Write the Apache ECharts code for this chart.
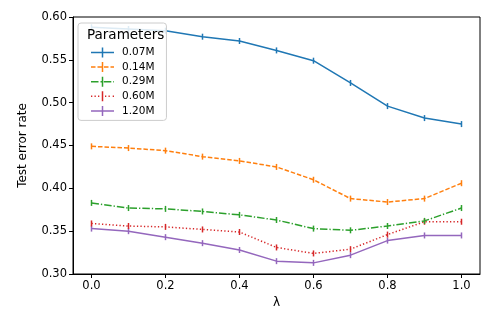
<!DOCTYPE html>
<html>
<head>
<meta charset="utf-8">
<script src="https://cdn.jsdelivr.net/npm/echarts@6/dist/echarts.min.js"></script>
<style>
  html, body { margin: 0; padding: 0; background: #fff; }
  #chart { width: 498px; height: 332px; }
</style>
</head>
<body>
<div id="chart"></div>
<script>
// lambda values on the x axis
const lambdas = [0.0, 0.1, 0.2, 0.3, 0.4, 0.5, 0.6, 0.7, 0.8, 0.9, 1.0]
const xTicks = [0.0, 0.2, 0.4, 0.6, 0.8, 1.0]

// test error rate per model size
const names = ['0.07M', '0.14M', '0.29M', '0.60M', '1.20M']
const err007 = [0.588, 0.586, 0.584, 0.577, 0.572, 0.561, 0.549, 0.523, 0.496, 0.482, 0.475]
const err014 = [0.449, 0.447, 0.444, 0.437, 0.432, 0.425, 0.410, 0.388, 0.384, 0.388, 0.406]
const err029 = [0.383, 0.377, 0.376, 0.373, 0.369, 0.363, 0.353, 0.351, 0.356, 0.362, 0.377]
const err060 = [0.359, 0.356, 0.355, 0.352, 0.349, 0.331, 0.324, 0.329, 0.346, 0.361, 0.361]
const err120 = [0.353, 0.350, 0.343, 0.336, 0.328, 0.315, 0.313, 0.322, 0.339, 0.345, 0.345]

const colors = ['#1f77b4', '#ff7f0e', '#2ca02c', '#d62728', '#9467bd']
const dashes = ['solid', [4.5, 2], [7.5, 2, 1.3, 2], [1.3, 2.2], 'solid']
const allValues = [err007, err014, err029, err060, err120]

const font = 'DejaVu Sans'
const chart = echarts.init(document.getElementById('chart'))

// 图例图标：横线(按线型分段) + 竖的误差棒，坐标框 23x10
const bar = 'M10.75,0 H12.25 V10 H10.75 Z'
const seg = (a, b) => `M${a},4.25 H${b} V5.75 H${a} Z`
const legendIcons = [
  'path://' + seg(0, 23) + bar,
  'path://' + seg(0, 4.5) + seg(6.5, 11) + seg(13, 17.5) + seg(19.5, 23) + bar,
  'path://' + seg(0, 7.5) + seg(9.5, 10.8) + seg(12.8, 20.3) + seg(22.3, 23) + bar,
  'path://' + seg(0, 1.3) + seg(3.5, 4.8) + seg(7, 8.3) + seg(14, 15.3) + seg(17.5, 18.8) + seg(21.7, 23) + bar,
  'path://' + seg(0, 23) + bar,
]

// 误差棒用细竖条当作标记
const tick = 'path://M0,0 L1,0 L1,8 L0,8 Z'

const series = allValues.map((vals, i) => ({
  name: names[i],
  type: 'line',
  data: lambdas.map((x, j) => [x, vals[j]]),
  symbol: tick,
  symbolSize: [1.5, 6],
  showSymbol: true,
  color: colors[i],
  lineStyle: { width: 1.5, type: dashes[i], color: colors[i] },
  itemStyle: { color: colors[i] },
  z: 10 - i,
}))

const option = {
  animation: false,
  textStyle: { fontFamily: font },
  title: {
    text: 'Parameters',
    left: 82,
    top: 23,
    textStyle: { fontFamily: font, fontSize: 13.5, fontWeight: 'normal', color: '#000' },
    z: 20,
  },
  legend: {
    orient: 'vertical',
    left: 78,
    top: 23,
    padding: [24, 12, 4, 13],
    itemWidth: 23,
    itemHeight: 10,
    itemGap: 3.6,
    symbolKeepAspect: true,
    backgroundColor: 'rgba(255,255,255,0.85)',
    borderColor: '#cccccc',
    borderWidth: 1,
    borderRadius: 3,
    textStyle: { fontFamily: font, fontSize: 10.5, color: '#000', lineHeight: 10, padding: [0, 0, 0, 3] },
    data: names.map((n, i) => ({ name: n, icon: legendIcons[i], itemStyle: { color: colors[i] } })),
    z: 15,
  },
  grid: {
    left: 73,
    right: 18,
    top: 17,
    bottom: 58,
    show: true,
    borderColor: '#000',
    borderWidth: 1,
  },
  xAxis: {
    type: 'value',
    min: -0.05,
    max: 1.05,
    name: 'λ',
    nameLocation: 'middle',
    nameGap: 22,
    nameTextStyle: { fontFamily: font, fontSize: 12, color: '#000' },
    axisLine: { onZero: false, lineStyle: { color: '#000', width: 1 } },
    axisTick: { show: true, length: 4, customValues: xTicks, lineStyle: { color: '#000' } },
    axisLabel: {
      customValues: xTicks,
      formatter: (v) => v.toFixed(1),
      fontFamily: font,
      fontSize: 11.5,
      color: '#000',
      margin: 6,
    },
    splitLine: { show: false },
  },
  yAxis: {
    type: 'value',
    min: 0.3,
    max: 0.6,
    interval: 0.05,
    name: 'Test error rate',
    nameLocation: 'middle',
    nameGap: 44,
    nameTextStyle: { fontFamily: font, fontSize: 12, color: '#000' },
    axisLine: { show: true, onZero: false, lineStyle: { color: '#000', width: 1 } },
    axisTick: { show: true, length: 4, lineStyle: { color: '#000' } },
    axisLabel: {
      formatter: (v) => v.toFixed(2),
      fontFamily: font,
      fontSize: 11.5,
      color: '#000',
      margin: 6,
    },
    splitLine: { show: false },
  },
  series: series,
}

chart.setOption(option)
</script>
</body>
</html>
